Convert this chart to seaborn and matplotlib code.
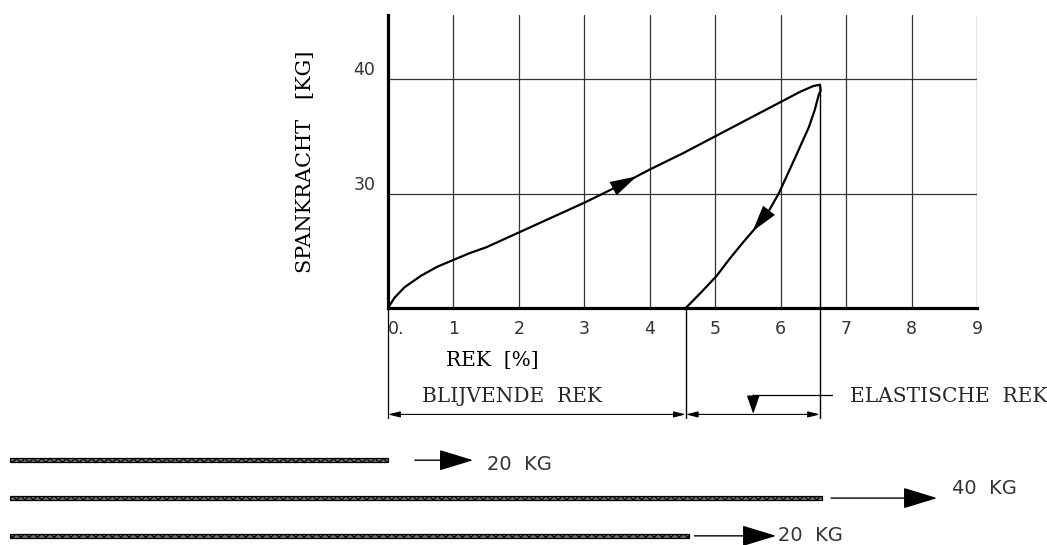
import numpy as np
import pandas as pd
import matplotlib
matplotlib.use('Agg')
import matplotlib.pyplot as plt
from matplotlib.patches import Rectangle
import seaborn as sns

# --- data: spankracht [kg] against rek [%] ---
LOAD_REK = [0.0, 0.1, 0.25, 0.5, 0.75, 1.0, 1.25, 1.5, 2.0, 2.5, 3.0, 3.5,
            4.0, 4.5, 5.0, 5.5, 6.0, 6.3, 6.5, 6.6]
LOAD_KRACHT = [20.0, 20.9, 21.8, 22.8, 23.6, 24.2, 24.8, 25.3, 26.6, 27.9, 29.2,
               30.6, 32.1, 33.5, 35.0, 36.5, 38.0, 38.9, 39.4, 39.5]
UNLOAD_REK = [6.6, 6.61, 6.58, 6.52, 6.43, 6.32, 6.21, 6.09, 5.97, 5.83, 5.63,
              5.42, 5.22, 5.02, 4.79, 4.55]
UNLOAD_KRACHT = [39.5, 39.0, 38.6, 37.3, 35.8, 34.4, 33.0, 31.5, 30.0, 28.6, 27.1,
                 25.7, 24.3, 22.8, 21.4, 20.0]

X_TICKS = [0, 1, 2, 3, 4, 5, 6, 7, 8, 9]
X_TICKLABELS = ['0.', '1', '2', '3', '4', '5', '6', '7', '8', '9']
Y_TICKS = [30, 40]
Y_TICKLABELS = ['30', '40']

BLIJVEND = 4.55     # permanent strain
PIEK_REK = 6.6      # strain at 40 kg

ROPE_END = [0.0, 6.63, 4.6]
ROPE_LABELS = ['20  KG', '40  KG', '20  KG']

SERIF = 'DejaVu Serif'
SANS = 'DejaVu Sans'

sns.set_theme(style='white')
plt.rcParams['font.family'] = [SANS]
plt.rcParams['hatch.linewidth'] = 0.8

fig = plt.figure(figsize=(10.47, 5.45), dpi=100)
ax = fig.add_axes([0.3706, 0.4349, 0.5626, 0.5376])

load = pd.DataFrame({'rek': LOAD_REK, 'kracht': LOAD_KRACHT})
unload = pd.DataFrame({'rek': UNLOAD_REK, 'kracht': UNLOAD_KRACHT})
sns.lineplot(data=load, x='rek', y='kracht', sort=False, estimator=None,
             color='black', lw=1.6, ax=ax)
sns.lineplot(data=unload, x='rek', y='kracht', sort=False, estimator=None,
             color='black', lw=1.6, ax=ax)

ax.set_xlim(0, 9)
ax.set_ylim(20, 45.6)
ax.set_xticks(X_TICKS)
ax.set_xticklabels(X_TICKLABELS, fontsize=12.5, color='#333333', family=SANS)
ax.get_xticklabels()[0].set_ha('left')
ax.set_yticks(Y_TICKS)
ax.set_yticklabels(Y_TICKLABELS, fontsize=12.5, color='#333333', family=SANS,
                   va='bottom')
ax.tick_params(axis='x', length=0, pad=9)
ax.tick_params(axis='y', length=0, pad=9)

ax.grid(True, color='#333333', lw=0.9)
for side in ['top', 'right']:
    ax.spines[side].set_visible(False)
for side in ['left', 'bottom']:
    ax.spines[side].set_linewidth(2.3)
    ax.spines[side].set_color('black')
    ax.spines[side].set_zorder(5)

ax.set_xlabel('REK  [%]', family=SERIF, fontsize=14.5, color='black')
ax.xaxis.set_label_coords(0.177, -0.147)
ax.set_ylabel('SPANKRACHT   [KG]', family=SERIF, fontsize=15, color='black')
ax.yaxis.set_label_coords(-0.124, 0.5)


def head(x0, y0, x1, y1, hl, hw, lw=0.0):
    ax.annotate('', xy=(x1, y1), xytext=(x0, y0), annotation_clip=False,
                arrowprops=dict(arrowstyle=f'-|>,head_length={hl},head_width={hw}',
                                color='black', lw=lw, shrinkA=0, shrinkB=0))


# arrows along the curves
lx = np.array([3.45, 3.8])
head(lx[0], np.interp(lx[0], LOAD_REK, LOAD_KRACHT),
     lx[1], np.interp(lx[1], LOAD_REK, LOAD_KRACHT), 1.6, 0.45)
uy = np.array([28.4, 26.7])
ux = np.interp(uy, UNLOAD_KRACHT[::-1], UNLOAD_REK[::-1])
head(ux[0], uy[0], ux[1], uy[1], 1.6, 0.45)

# dimension lines below the graph
DIM_LOW = 10.35
DIM_Y = 10.7
ax.plot([0, 0], [20, DIM_LOW], color='black', lw=0.9, clip_on=False)
ax.plot([BLIJVEND, BLIJVEND], [20, DIM_LOW], color='black', lw=1.0, clip_on=False)
ax.plot([PIEK_REK, PIEK_REK], [LOAD_KRACHT[-1], DIM_LOW], color='black', lw=1.0,
        clip_on=False)
for a, b in [(0, BLIJVEND), (BLIJVEND, PIEK_REK)]:
    ax.annotate('', xy=(b, DIM_Y), xytext=(a, DIM_Y), annotation_clip=False,
                arrowprops=dict(arrowstyle='<|-|>,head_length=0.6,head_width=0.15',
                                color='black', lw=0.8, shrinkA=0, shrinkB=0))

ax.text(0.52, 12.26, 'BLIJVENDE  REK', family=SERIF, fontsize=14.5,
        ha='left', va='center', clip_on=False)

# leader to ELASTISCHE REK
LEADER_Y = 12.4
LEADER_X = 5.58
ax.plot([LEADER_X, 6.79], [LEADER_Y, LEADER_Y], color='black', lw=0.9, clip_on=False)
head(LEADER_X, LEADER_Y, LEADER_X, DIM_Y + 0.05, 0.95, 0.33, lw=0.9)
ax.text(7.06, 12.26, 'ELASTISCHE  REK', family=SERIF, fontsize=14.5,
        ha='left', va='center', clip_on=False)

# ropes
ROPE_START = -5.78
ROPE_Y = [6.70, 3.39, 0.09]
ARROW_FROM = [0.41, 6.77, 4.68]
ARROW_TIP = [1.30, 8.39, 5.93]
LABEL_X = [1.51, 8.62, 5.96]
LABEL_Y = [6.35, 4.26, 0.09]
for i in range(3):
    ax.add_patch(Rectangle((ROPE_START, ROPE_Y[i] - 0.2), ROPE_END[i] - ROPE_START,
                           0.4, facecolor='#6e6e6e', edgecolor='black',
                           hatch='xxxx', lw=0.9, clip_on=False))
    head(ARROW_FROM[i], ROPE_Y[i], ARROW_TIP[i], ROPE_Y[i], 1.8, 0.55, lw=1.0)
    ax.text(LABEL_X[i], LABEL_Y[i], ROPE_LABELS[i], family=SANS, fontsize=14,
            color='#333333', ha='left', va='center', clip_on=False)

fig.savefig('out.png', dpi=100)
